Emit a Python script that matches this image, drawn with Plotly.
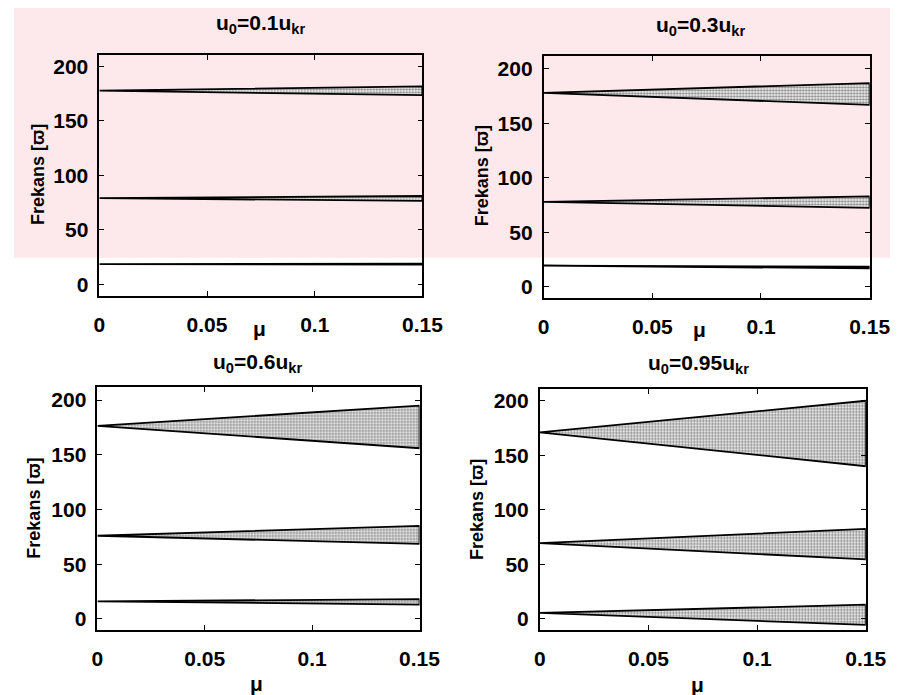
import plotly.graph_objects as go

# ---------------- data ----------------
mu_edges = [0.0, 0.15]

panel_titles = ["u<sub>0</sub>=0.1u<sub>kr</sub>", "u<sub>0</sub>=0.3u<sub>kr</sub>",
                "u<sub>0</sub>=0.6u<sub>kr</sub>", "u<sub>0</sub>=0.95u<sub>kr</sub>"]

# value at mu=0 (bands start from one point), upper and lower edge at mu=0.15
p1_start = [18.5, 79.0, 177.5]
p1_upper = [19.0, 81.0, 181.5]
p1_lower = [18.0, 76.5, 173.5]

p2_start = [19.5, 78.0, 178.0]
p2_upper = [18.5, 83.0, 187.0]
p2_lower = [17.0, 72.5, 167.0]

p3_start = [16.0, 76.0, 176.5]
p3_upper = [18.0, 85.0, 195.0]
p3_lower = [13.0, 68.5, 156.0]

p4_start = [5.5, 69.5, 171.0]
p4_upper = [13.0, 82.5, 200.0]
p4_lower = [-5.5, 54.5, 140.0]

x_tickvals = [0, 0.05, 0.1, 0.15]
x_ticktext = ["0", "0.05", "0.1", "0.15"]
y_tickvals = [0, 50, 100, 150, 200]
y_ticktext = ["0", "50", "100", "150", "200"]

x_title = "μ"
y_title = "Frekans [ϖ]"

# ---------------- layout geometry (pixels) ----------------
W, H = 903, 695
boxes = [  # x0, x1, ytop, ybottom in pixels
    (88, 421, 47, 288),
    (546, 882, 48, 290),
    (86, 418, 380, 623),
    (542, 878, 382, 623),
]
yranges = [[-10.3, 210.3], [-9.8, 211.9], [-10.3, 211.6], [-10.3, 210.4]]
title_pos = [(254, 16), (708, 18), (251, 356), (706, 357)]
xlab_pos = [(253, 321), (707, 322), (250, 676), (705, 677)]
ylab_pos = [(25, 167), (482, 168), (21, 501), (478, 502)]

panels = [(p1_start, p1_upper, p1_lower), (p2_start, p2_upper, p2_lower),
          (p3_start, p3_upper, p3_lower), (p4_start, p4_upper, p4_lower)]

FONT = "Liberation Sans, Arial, sans-serif"

fig = go.Figure()

for i, (starts, uppers, lowers) in enumerate(panels):
    xa = "x" if i == 0 else f"x{i+1}"
    ya = "y" if i == 0 else f"y{i+1}"
    for s, u, l in zip(starts, uppers, lowers):
        fig.add_trace(go.Scatter(
            x=[mu_edges[0], mu_edges[1], mu_edges[1], mu_edges[0]],
            y=[s, u, l, s],
            mode="lines", fill="toself",
            fillcolor="white",
            fillpattern=dict(shape=".", fgcolor="#111111", bgcolor="white",
                             size=3, solidity=0.5),
            line=dict(color="black", width=1.8),
            xaxis=xa, yaxis=ya, showlegend=False, hoverinfo="skip"))

layout = dict(
    width=W, height=H,
    margin=dict(l=0, r=0, t=0, b=0),
    paper_bgcolor="white", plot_bgcolor="rgba(0,0,0,0)",
    showlegend=False,
    font=dict(family=FONT, color="black", size=20),
)

annotations = []
for i, (x0, x1, yt, yb) in enumerate(boxes):
    suf = "" if i == 0 else str(i + 1)
    layout["xaxis" + suf] = dict(
        domain=[x0 / W, x1 / W], range=[0, 0.15], anchor="y" + suf,
        tickvals=x_tickvals, ticktext=x_ticktext,
        ticks="inside", ticklen=5, tickwidth=1.3, tickcolor="black",
        showline=True, linecolor="black", linewidth=1.7, mirror="ticks",
        showgrid=False, zeroline=False,
        tickfont=dict(family=FONT, size=21, color="black", weight="bold"),
        ticklabelstandoff=9,
    )
    layout["yaxis" + suf] = dict(
        domain=[1 - yb / H, 1 - yt / H], range=yranges[i], anchor="x" + suf,
        tickvals=y_tickvals, ticktext=y_ticktext,
        ticks="inside", ticklen=5, tickwidth=1.3, tickcolor="black",
        showline=True, linecolor="black", linewidth=1.7, mirror="ticks",
        showgrid=False, zeroline=False,
        tickfont=dict(family=FONT, size=21, color="black", weight="bold"),
        ticklabelstandoff=5,
    )
    tx, ty = title_pos[i]
    annotations.append(dict(text=panel_titles[i], x=tx / W, y=1 - ty / H,
                            xref="paper", yref="paper", showarrow=False,
                            xanchor="center", yanchor="middle",
                            font=dict(family=FONT, size=21, color="black", weight="bold")))
    lx, ly = xlab_pos[i]
    annotations.append(dict(text=x_title, x=lx / W, y=1 - ly / H,
                            xref="paper", yref="paper", showarrow=False,
                            xanchor="center", yanchor="middle",
                            font=dict(family=FONT, size=21, color="black", weight="bold")))
    vx, vy = ylab_pos[i]
    annotations.append(dict(text=y_title, x=vx / W, y=1 - vy / H,
                            xref="paper", yref="paper", showarrow=False,
                            xanchor="center", yanchor="middle", textangle=-90,
                            font=dict(family=FONT, size=18, color="black", weight="bold")))

layout["annotations"] = annotations

# light pink watermark in the upper part of the page
layout["shapes"] = [dict(type="rect", xref="paper", yref="paper",
                         x0=0, x1=1, y0=1 - 250 / H, y1=1,
                         fillcolor="#fde9ec", line=dict(width=0), layer="below")]

fig.update_layout(**layout)
fig.write_html("out.html")
